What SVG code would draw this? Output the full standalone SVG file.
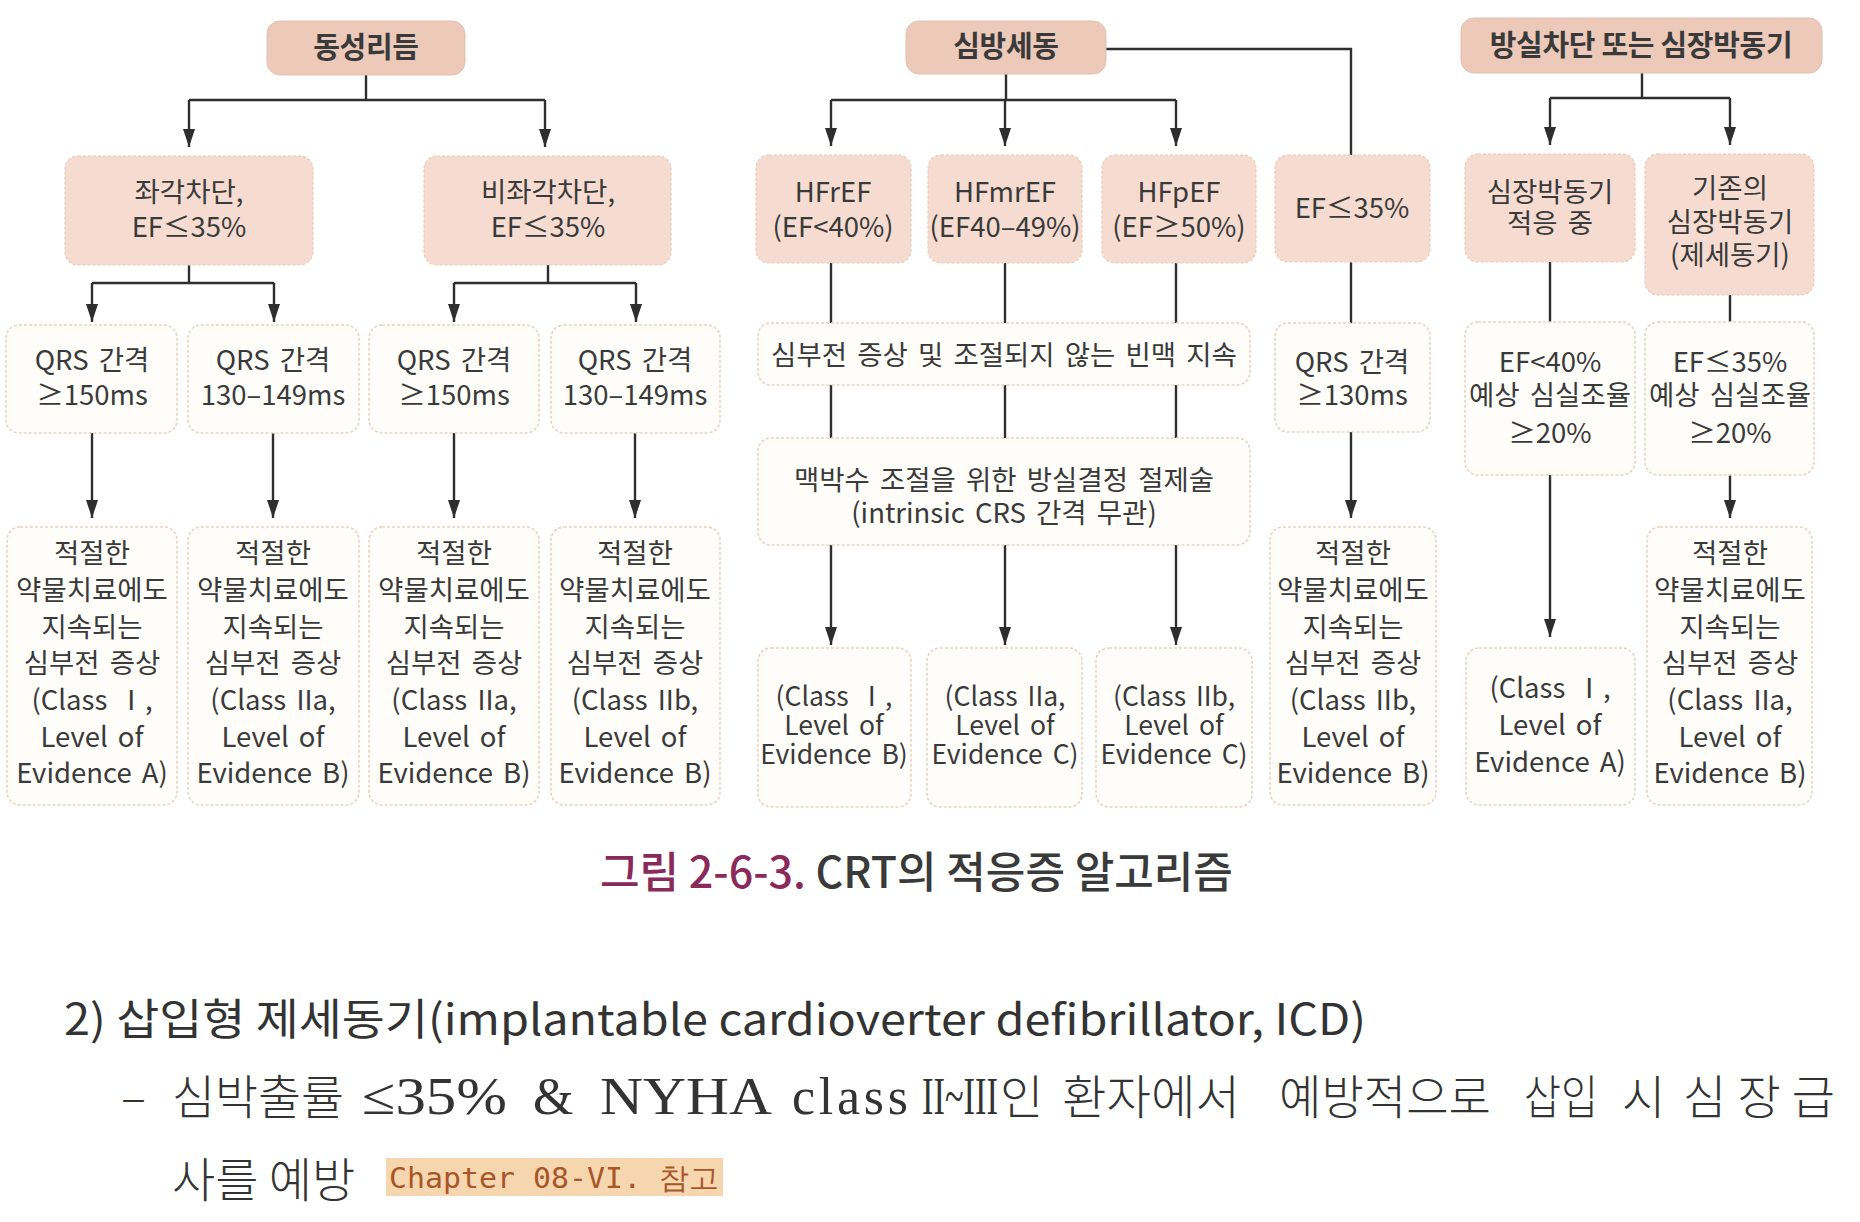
<svg xmlns="http://www.w3.org/2000/svg" width="1860" height="1222" viewBox="0 0 1860 1222">
<style>
.hdr{fill:#ecc9b8;stroke:#e6bfae;stroke-width:1}
.l2{fill:#f6dcd0;stroke:#ecc9b8;stroke-width:1.2;stroke-dasharray:3 2}
.wb{fill:#fffdfa;stroke:#e9d2c4;stroke-width:1.6;stroke-dasharray:3 2}
.t{font-family:"Noto Sans CJK KR","Noto Sans",sans-serif;font-size:27.5px;fill:#3a3a3a;text-anchor:middle;word-spacing:4px}
.ts{font-size:26.5px}
.tb{font-family:"Noto Sans CJK KR","Noto Sans",sans-serif;font-size:29px;font-weight:700;fill:#3a3a3a;text-anchor:middle;letter-spacing:-0.3px}
.conn path{fill:none;stroke:#2e2e2e;stroke-width:2.4}
.kr{font-family:"Noto Sans CJK KR",sans-serif;font-size:47px;font-weight:300}
.sf{font-family:"Liberation Serif",serif;font-size:52px}
</style>
<defs>
<marker id="ah" markerUnits="userSpaceOnUse" markerWidth="18" markerHeight="12" viewBox="0 0 18 12" refX="18" refY="6" orient="auto">
<path d="M0,0 L18,6 L0,12 z" fill="#2e2e2e"/>
</marker>
</defs>
<rect width="1860" height="1222" fill="#ffffff"/>

<g class="conn" id="connectors">
<path d="M366,75 V100 M189,100 H545"/>
<path d="M189,100 V147" marker-end="url(#ah)"/>
<path d="M545,100 V147" marker-end="url(#ah)"/>
<path d="M189,265 V283 M92,283 H274"/>
<path d="M92,283 V322" marker-end="url(#ah)"/>
<path d="M274,283 V322" marker-end="url(#ah)"/>
<path d="M548,265 V283 M454,283 H636"/>
<path d="M454,283 V322" marker-end="url(#ah)"/>
<path d="M636,283 V322" marker-end="url(#ah)"/>
<path d="M92,433 V518" marker-end="url(#ah)"/>
<path d="M273,433 V518" marker-end="url(#ah)"/>
<path d="M454,433 V518" marker-end="url(#ah)"/>
<path d="M635,433 V518" marker-end="url(#ah)"/>
<path d="M1006,74 V100 M831,100 H1176"/>
<path d="M831,100 V146" marker-end="url(#ah)"/>
<path d="M1005,100 V146" marker-end="url(#ah)"/>
<path d="M1176,100 V146" marker-end="url(#ah)"/>
<path d="M1106,49 H1351 V155"/>
<path d="M831,263 V323 M1005,263 V323 M1176,263 V323"/>
<path d="M831,385 V438 M1005,385 V438 M1176,385 V438"/>
<path d="M831,545 V645" marker-end="url(#ah)"/>
<path d="M1005,545 V645" marker-end="url(#ah)"/>
<path d="M1176,545 V645" marker-end="url(#ah)"/>
<path d="M1351,262 V323"/>
<path d="M1351,432 V518" marker-end="url(#ah)"/>
<path d="M1642,73 V98 M1550,98 H1730"/>
<path d="M1550,98 V145" marker-end="url(#ah)"/>
<path d="M1730,98 V145" marker-end="url(#ah)"/>
<path d="M1550,262 V322 M1730,295 V322"/>
<path d="M1550,475 V637" marker-end="url(#ah)"/>
<path d="M1730,475 V518" marker-end="url(#ah)"/>
</g>

<g id="n-sinus"><rect class="hdr" x="267" y="21" width="198" height="54" rx="13"/><text class="tb" x="366" y="58">동성리듬</text></g>
<g id="n-af"><rect class="hdr" x="906" y="21" width="200" height="53" rx="13"/><text class="tb" x="1006" y="57">심방세동</text></g>
<g id="n-avb"><rect class="hdr" x="1461" y="18" width="361" height="55" rx="13"/><text class="tb" x="1641" y="56">방실차단 또는 심장박동기</text></g>

<g id="n-lbbb"><rect class="l2" x="65" y="156" width="248" height="109" rx="13"/><text class="t" x="189" y="202">좌각차단,</text><text class="t" x="189" y="237">EF≤35%</text></g>
<g id="n-nlbbb"><rect class="l2" x="424" y="156" width="247" height="109" rx="13"/><text class="t" x="548" y="202">비좌각차단,</text><text class="t" x="548" y="237">EF≤35%</text></g>
<g id="n-hfref"><rect class="l2" x="756" y="155" width="155" height="108" rx="13"/><text class="t" x="833" y="202">HFrEF</text><text class="t" x="833" y="237">(EF&lt;40%)</text></g>
<g id="n-hfmref"><rect class="l2" x="928" y="155" width="154" height="108" rx="13"/><text class="t" x="1005" y="202">HFmrEF</text><text class="t" x="1005" y="237">(EF40–49%)</text></g>
<g id="n-hfpef"><rect class="l2" x="1102" y="155" width="154" height="108" rx="13"/><text class="t" x="1179" y="202">HFpEF</text><text class="t" x="1179" y="237">(EF≥50%)</text></g>
<g id="n-ef35"><rect class="l2" x="1275" y="155" width="155" height="107" rx="13"/><text class="t" x="1352" y="218">EF≤35%</text></g>
<g id="n-pacing"><rect class="l2" x="1465" y="154" width="170" height="108" rx="13"/><text class="t" x="1550" y="202">심장박동기</text><text class="t" x="1550" y="233">적응 중</text></g>
<g id="n-existing"><rect class="l2" x="1645" y="154" width="169" height="141" rx="13"/><text class="t" x="1730" y="198">기존의</text><text class="t" x="1730" y="232">심장박동기</text><text class="t" x="1730" y="265">(제세동기)</text></g>

<g id="n-q1"><rect class="wb" x="6" y="325" width="171" height="108" rx="13"/><text class="t" x="92" y="370">QRS 간격</text><text class="t" x="92" y="405">≥150ms</text></g>
<g id="n-q2"><rect class="wb" x="188" y="325" width="171" height="108" rx="13"/><text class="t" x="273" y="370">QRS 간격</text><text class="t" x="273" y="405">130–149ms</text></g>
<g id="n-q3"><rect class="wb" x="369" y="325" width="170" height="108" rx="13"/><text class="t" x="454" y="370">QRS 간격</text><text class="t" x="454" y="405">≥150ms</text></g>
<g id="n-q4"><rect class="wb" x="551" y="325" width="169" height="108" rx="13"/><text class="t" x="635" y="370">QRS 간격</text><text class="t" x="635" y="405">130–149ms</text></g>
<g id="n-hfsym"><rect class="wb" x="758" y="323" width="492" height="62" rx="13"/><text class="t" x="1004" y="365">심부전 증상 및 조절되지 않는 빈맥 지속</text></g>
<g id="n-q5"><rect class="wb" x="1275" y="323" width="155" height="109" rx="13"/><text class="t" x="1352" y="372">QRS 간격</text><text class="t" x="1352" y="405">≥130ms</text></g>
<g id="n-ef40v"><rect class="wb" x="1465" y="322" width="170" height="153" rx="13"/><text class="t" x="1550" y="372">EF&lt;40%</text><text class="t" x="1550" y="405">예상 심실조율</text><text class="t" x="1550" y="443">≥20%</text></g>
<g id="n-ef35v"><rect class="wb" x="1645" y="322" width="169" height="153" rx="13"/><text class="t" x="1730" y="372">EF≤35%</text><text class="t" x="1730" y="405">예상 심실조율</text><text class="t" x="1730" y="443">≥20%</text></g>
<g id="n-ablation"><rect class="wb" x="758" y="438" width="492" height="107" rx="13"/><text class="t" x="1004" y="490">맥박수 조절을 위한 방실결정 절제술</text><text class="t" x="1004" y="523">(intrinsic CRS 간격 무관)</text></g>

<g id="n-b1"><rect class="wb" x="7" y="527" width="170" height="278" rx="13"/>
<text class="t" x="92"><tspan x="92" y="563">적절한</tspan><tspan x="92" y="600">약물치료에도</tspan><tspan x="92" y="637">지속되는</tspan><tspan x="92" y="673">심부전 증상</tspan><tspan x="92" y="710">(Class Ⅰ,</tspan><tspan x="92" y="747">Level of</tspan><tspan x="92" y="783">Evidence A)</tspan></text></g>
<g id="n-b2"><rect class="wb" x="188" y="527" width="171" height="278" rx="13"/>
<text class="t" x="273"><tspan x="273" y="563">적절한</tspan><tspan x="273" y="600">약물치료에도</tspan><tspan x="273" y="637">지속되는</tspan><tspan x="273" y="673">심부전 증상</tspan><tspan x="273" y="710">(Class IIa,</tspan><tspan x="273" y="747">Level of</tspan><tspan x="273" y="783">Evidence B)</tspan></text></g>
<g id="n-b3"><rect class="wb" x="369" y="527" width="170" height="278" rx="13"/>
<text class="t" x="454"><tspan x="454" y="563">적절한</tspan><tspan x="454" y="600">약물치료에도</tspan><tspan x="454" y="637">지속되는</tspan><tspan x="454" y="673">심부전 증상</tspan><tspan x="454" y="710">(Class IIa,</tspan><tspan x="454" y="747">Level of</tspan><tspan x="454" y="783">Evidence B)</tspan></text></g>
<g id="n-b4"><rect class="wb" x="551" y="527" width="169" height="278" rx="13"/>
<text class="t" x="635"><tspan x="635" y="563">적절한</tspan><tspan x="635" y="600">약물치료에도</tspan><tspan x="635" y="637">지속되는</tspan><tspan x="635" y="673">심부전 증상</tspan><tspan x="635" y="710">(Class IIb,</tspan><tspan x="635" y="747">Level of</tspan><tspan x="635" y="783">Evidence B)</tspan></text></g>
<g id="n-c1"><rect class="wb" x="758" y="648" width="153" height="159" rx="13"/>
<text class="t ts" x="834"><tspan x="834" y="706">(Class Ⅰ,</tspan><tspan x="834" y="735">Level of</tspan><tspan x="834" y="764">Evidence B)</tspan></text></g>
<g id="n-c2"><rect class="wb" x="927" y="648" width="155" height="159" rx="13"/>
<text class="t ts" x="1005"><tspan x="1005" y="706">(Class IIa,</tspan><tspan x="1005" y="735">Level of</tspan><tspan x="1005" y="764">Evidence C)</tspan></text></g>
<g id="n-c3"><rect class="wb" x="1096" y="648" width="156" height="159" rx="13"/>
<text class="t ts" x="1174"><tspan x="1174" y="706">(Class IIb,</tspan><tspan x="1174" y="735">Level of</tspan><tspan x="1174" y="764">Evidence C)</tspan></text></g>
<g id="n-b5"><rect class="wb" x="1270" y="527" width="166" height="278" rx="13"/>
<text class="t" x="1353"><tspan x="1353" y="563">적절한</tspan><tspan x="1353" y="600">약물치료에도</tspan><tspan x="1353" y="637">지속되는</tspan><tspan x="1353" y="673">심부전 증상</tspan><tspan x="1353" y="710">(Class IIb,</tspan><tspan x="1353" y="747">Level of</tspan><tspan x="1353" y="783">Evidence B)</tspan></text></g>
<g id="n-c4"><rect class="wb" x="1466" y="648" width="169" height="157" rx="13"/>
<text class="t" x="1550"><tspan x="1550" y="698">(Class Ⅰ,</tspan><tspan x="1550" y="735">Level of</tspan><tspan x="1550" y="772">Evidence A)</tspan></text></g>
<g id="n-b6"><rect class="wb" x="1647" y="527" width="165" height="278" rx="13"/>
<text class="t" x="1730"><tspan x="1730" y="563">적절한</tspan><tspan x="1730" y="600">약물치료에도</tspan><tspan x="1730" y="637">지속되는</tspan><tspan x="1730" y="673">심부전 증상</tspan><tspan x="1730" y="710">(Class IIa,</tspan><tspan x="1730" y="747">Level of</tspan><tspan x="1730" y="783">Evidence B)</tspan></text></g>

<g id="caption">
<text x="600" y="888" font-family="'Noto Sans CJK KR','Noto Sans',sans-serif" font-size="43" font-weight="500" fill="#3a3a3a"><tspan fill="#8a2a5a">그림 2-6-3.</tspan> CRT의 적응증 알고리즘</text>
</g>
<g id="body-text" fill="#333333">
<text x="64" y="1035" font-family="'Noto Sans CJK KR','Noto Sans',sans-serif" font-size="43" textLength="1302" lengthAdjust="spacingAndGlyphs">2) 삽입형 제세동기(implantable cardioverter defibrillator, ICD)</text>
<text class="kr" x="121" y="1114">–</text>
<text class="kr" x="172" y="1114" textLength="172" lengthAdjust="spacingAndGlyphs">심박출률</text>
<text class="sf" x="362" y="1114" textLength="145" lengthAdjust="spacingAndGlyphs">≤35%</text>
<text class="sf" x="533" y="1114">&amp;</text>
<text class="sf" x="600" y="1114" textLength="172" lengthAdjust="spacingAndGlyphs">NYHA</text>
<text class="sf" x="792" y="1114" textLength="116">class</text>
<text class="sf" x="922" y="1114" textLength="76" lengthAdjust="spacingAndGlyphs">II~III</text>
<text class="kr" x="1000" y="1114">인</text>
<text class="kr" x="1062" y="1114" textLength="178" lengthAdjust="spacingAndGlyphs">환자에서</text>
<text class="kr" x="1279" y="1114" textLength="212" lengthAdjust="spacingAndGlyphs">예방적으로</text>
<text class="kr" x="1524" y="1114" textLength="74" lengthAdjust="spacingAndGlyphs">삽입</text>
<text class="kr" x="1622" y="1114">시</text>
<text class="kr" x="1683" y="1114" textLength="152">심장급</text>
<text class="kr" x="172" y="1197">사를 예방</text>
<rect x="386" y="1158" width="337" height="38" fill="#f6d6ae"/>
<text x="389" y="1188" font-family="'DejaVu Sans Mono',monospace" font-size="29" fill="#a8552a" textLength="330" lengthAdjust="spacingAndGlyphs">Chapter 08-VI. 참고</text>
</g>
</svg>
